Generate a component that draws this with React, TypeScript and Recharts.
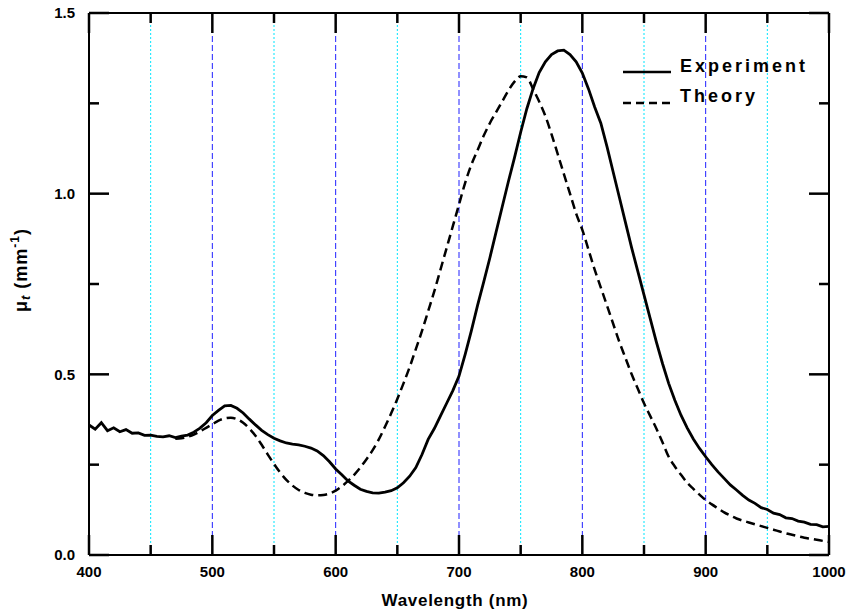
import { LineChart, Line, XAxis, YAxis, ReferenceLine } from "recharts";

const expWavelengths = [
  400, 405, 410, 415, 420, 425, 430, 435, 440, 445, 450, 455, 460, 465, 470, 475, 480, 485, 490, 495,
  500, 505, 510, 515, 520, 525, 530, 535, 540, 545, 550, 555, 560, 565, 570, 575, 580, 585, 590, 595,
  600, 605, 610, 615, 620, 625, 630, 635, 640, 645, 650, 655, 660, 665, 670, 675, 680, 685, 690, 695,
  700, 705, 710, 715, 720, 725, 730, 735, 740, 745, 750, 755, 760, 765, 770, 775, 780, 785, 790, 795,
  800, 805, 810, 815, 820, 825, 830, 835, 840, 845, 850, 855, 860, 865, 870, 875, 880, 885, 890, 895,
  900, 905, 910, 915, 920, 925, 930, 935, 940, 945, 950, 955, 960, 965, 970, 975, 980, 985, 990, 995, 1000,
];
const expValues = [
  0.36, 0.348, 0.366, 0.344, 0.352, 0.341, 0.347, 0.337, 0.338, 0.331, 0.332, 0.328, 0.327, 0.33, 0.325, 0.329, 0.332, 0.34, 0.351, 0.366,
  0.386, 0.4, 0.413, 0.414, 0.406, 0.393, 0.376, 0.36, 0.345, 0.333, 0.323, 0.316, 0.31, 0.307, 0.305, 0.301, 0.296, 0.288, 0.275, 0.258,
  0.238, 0.222, 0.205, 0.193, 0.182, 0.176, 0.172, 0.171, 0.174, 0.178, 0.186, 0.2, 0.218, 0.242, 0.278, 0.32, 0.35, 0.385, 0.42, 0.455,
  0.495, 0.555, 0.62, 0.69, 0.755, 0.822, 0.893, 0.963, 1.033, 1.1, 1.17, 1.235, 1.29, 1.335, 1.365, 1.385, 1.395, 1.397, 1.385, 1.365,
  1.334, 1.29, 1.24, 1.195, 1.13, 1.06, 0.99, 0.92, 0.85, 0.785, 0.72, 0.655, 0.59, 0.53, 0.475, 0.428, 0.387, 0.352, 0.321, 0.295,
  0.272, 0.25, 0.23, 0.212, 0.194, 0.18, 0.165, 0.152, 0.143, 0.131, 0.126, 0.116, 0.112, 0.103, 0.101, 0.094, 0.091, 0.085, 0.084, 0.078, 0.079,
];

const theoryWavelengths = [
  470, 475, 480, 485, 490, 495, 500, 505, 510, 515, 520, 525, 530, 535, 540, 545, 550, 555, 560, 565,
  570, 575, 580, 585, 590, 595, 600, 605, 610, 615, 620, 625, 630, 635, 640, 645, 650, 655, 660, 665,
  670, 675, 680, 685, 690, 695, 700, 705, 710, 715, 720, 725, 730, 735, 740, 745, 750, 755, 760, 765,
  770, 775, 780, 785, 790, 795, 800, 805, 810, 815, 820, 825, 830, 835, 840, 845, 850, 855, 860, 865,
  870, 875, 880, 885, 890, 895, 900, 905, 910, 915, 920, 925, 930, 935, 940, 945, 950, 955, 960, 965,
  970, 975, 980, 985, 990, 995, 1000,
];
const theoryValues = [
  0.322, 0.323, 0.327, 0.333, 0.342, 0.352, 0.362, 0.372, 0.378, 0.38, 0.376, 0.366, 0.35, 0.33, 0.305, 0.278, 0.252, 0.228, 0.208, 0.192,
  0.18, 0.172, 0.167, 0.165, 0.166, 0.17, 0.178, 0.19, 0.205, 0.222, 0.242, 0.265, 0.29, 0.32, 0.355, 0.392, 0.432, 0.475, 0.52, 0.57,
  0.62, 0.675, 0.73, 0.79, 0.85, 0.91, 0.97, 1.03, 1.08, 1.12, 1.16, 1.195, 1.225, 1.255, 1.285, 1.31, 1.325, 1.322, 1.29, 1.255,
  1.215, 1.165, 1.11, 1.055, 1.0, 0.945, 0.9, 0.845, 0.79, 0.74, 0.69, 0.64, 0.59, 0.545, 0.5, 0.46, 0.42, 0.385, 0.35, 0.312,
  0.272, 0.245, 0.222, 0.2, 0.183, 0.167, 0.152, 0.14, 0.129, 0.118, 0.109, 0.101, 0.095, 0.09, 0.085, 0.08, 0.075, 0.07, 0.065, 0.06,
  0.056, 0.052, 0.048, 0.045, 0.042, 0.039, 0.036,
];

const xTicks = [400, 450, 500, 550, 600, 650, 700, 750, 800, 850, 900, 950, 1000];
const yTicks = [0, 0.25, 0.5, 0.75, 1.0, 1.25, 1.5];
const gridMajor = [500, 600, 700, 800, 900];
const gridMinor = [450, 550, 650, 750, 850, 950];

const expData = expWavelengths.map((w, i) => ({ w, v: expValues[i] }));
const theoryData = theoryWavelengths.map((w, i) => ({ w, v: theoryValues[i] }));

const FONT = "Arial, 'Liberation Sans', sans-serif";
const X0 = 400, X1 = 1000, Y0 = 0, Y1 = 1.5;
// inward tick lengths converted to data units (plot is 740 x 542 px)
const PX_X = (X1 - X0) / 740;
const PX_Y = (Y1 - Y0) / 542;

const isMajorX = (v: number) => v % 100 === 0;
const isMajorY = (v: number) => Math.abs(v * 2 - Math.round(v * 2)) < 1e-6;

type Seg = { key: string; a: { x: number; y: number }; b: { x: number; y: number } };
const tickSegs: Seg[] = [];
xTicks.forEach((t) => {
  const len = (isMajorX(t) ? 20 : 10) * PX_Y;
  tickSegs.push({ key: "xb" + t, a: { x: t, y: Y0 }, b: { x: t, y: Y0 + len } });
  tickSegs.push({ key: "xt" + t, a: { x: t, y: Y1 }, b: { x: t, y: Y1 - len } });
});
yTicks.forEach((t) => {
  const len = (isMajorY(t) ? 20 : 10) * PX_X;
  tickSegs.push({ key: "yl" + t, a: { x: X0, y: t }, b: { x: X0 + len, y: t } });
  tickSegs.push({ key: "yr" + t, a: { x: X1, y: t }, b: { x: X1 - len, y: t } });
});

const BottomLabel = (props: any) => {
  const { x, y, payload } = props;
  if (!isMajorX(payload.value)) return <g />;
  return (
    <text x={x} y={Number(y) + 22} textAnchor="middle" fontSize={15} fontWeight="bold" fontFamily={FONT} fill="#000">
      {payload.value}
    </text>
  );
};

const LeftLabel = (props: any) => {
  const { x, y, payload } = props;
  if (!isMajorY(payload.value)) return <g />;
  return (
    <text x={Number(x) - 14} y={y} dy="0.36em" textAnchor="end" fontSize={15} fontWeight="bold" fontFamily={FONT} fill="#000">
      {payload.value.toFixed(1)}
    </text>
  );
};

export default function App() {
  return (
    <div style={{ position: "absolute", left: 0, top: 0, width: 847, height: 614, background: "#fff" }}>
      <LineChart width={847} height={614} margin={{ top: 3, right: 8, left: 49, bottom: 29 }}>
        <XAxis
          xAxisId="b"
          dataKey="w"
          type="number"
          domain={[X0, X1]}
          ticks={xTicks}
          height={30}
          tickSize={0}
          tickMargin={0}
          tickLine={false}
          tick={BottomLabel}
          axisLine={{ stroke: "#000", strokeWidth: 2 }}
          interval={0}
          allowDataOverflow
        />
        <XAxis
          xAxisId="t"
          orientation="top"
          type="number"
          domain={[X0, X1]}
          ticks={xTicks}
          height={10}
          tick={false}
          tickLine={false}
          axisLine={{ stroke: "#000", strokeWidth: 2 }}
          allowDataOverflow
        />
        <YAxis
          yAxisId="l"
          type="number"
          domain={[Y0, Y1]}
          ticks={yTicks}
          width={40}
          tickSize={0}
          tickMargin={0}
          tickLine={false}
          tick={LeftLabel}
          axisLine={{ stroke: "#000", strokeWidth: 2 }}
          interval={0}
          allowDataOverflow
        />
        <YAxis
          yAxisId="r"
          orientation="right"
          type="number"
          domain={[Y0, Y1]}
          ticks={yTicks}
          width={10}
          tick={false}
          tickLine={false}
          axisLine={{ stroke: "#000", strokeWidth: 2 }}
          allowDataOverflow
        />
        {gridMinor.map((g) => (
          <ReferenceLine key={"m" + g} x={g} xAxisId="b" yAxisId="l" stroke="#00e5ff" strokeWidth={1} strokeDasharray="2 2" />
        ))}
        {gridMajor.map((g) => (
          <ReferenceLine key={"M" + g} x={g} xAxisId="b" yAxisId="l" stroke="#2020ff" strokeWidth={1} strokeDasharray="6 3" />
        ))}
        {tickSegs.map((s) => (
          <ReferenceLine key={s.key} xAxisId="b" yAxisId="l" segment={[s.a, s.b]} stroke="#000" strokeWidth={2.5} />
        ))}
        <Line
          data={theoryData}
          dataKey="v"
          xAxisId="b"
          yAxisId="l"
          type="monotone"
          stroke="#000"
          strokeWidth={2.5}
          strokeDasharray="9 5"
          dot={false}
          isAnimationActive={false}
        />
        <Line
          data={expData}
          dataKey="v"
          xAxisId="b"
          yAxisId="l"
          type="linear"
          stroke="#000"
          strokeWidth={2.8}
          dot={false}
          isAnimationActive={false}
        />
      </LineChart>
      <svg width={847} height={614} style={{ position: "absolute", left: 0, top: 0, pointerEvents: "none" }}>
        <line x1={623} x2={671} y1={72} y2={72} stroke="#000" strokeWidth={2.5} />
        <text x={680} y={72} fontSize={18} fontWeight="bold" fontFamily={FONT} letterSpacing={3} fill="#000">
          Experiment
        </text>
        <line x1={623} x2={671} y1={103} y2={103} stroke="#000" strokeWidth={2.5} strokeDasharray="8 5" />
        <text x={680} y={102} fontSize={18} fontWeight="bold" fontFamily={FONT} letterSpacing={3} fill="#000">
          Theory
        </text>
        <text x={455} y={606} textAnchor="middle" fontSize={17} fontWeight="bold" fontFamily={FONT} letterSpacing={0.7} fill="#000">
          Wavelength (nm)
        </text>
        <text
          transform="translate(27,270) rotate(-90)"
          textAnchor="middle"
          fontSize={18}
          fontWeight="bold"
          fontFamily={FONT}
          letterSpacing={1}
          fill="#000"
        >
          μ
          <tspan fontSize={13} fontStyle="italic" dy={3}>t</tspan>
          <tspan dy={-3}> (mm</tspan>
          <tspan fontSize={12} dy={-8}>-1</tspan>
          <tspan dy={8}>)</tspan>
        </text>
      </svg>
    </div>
  );
}
